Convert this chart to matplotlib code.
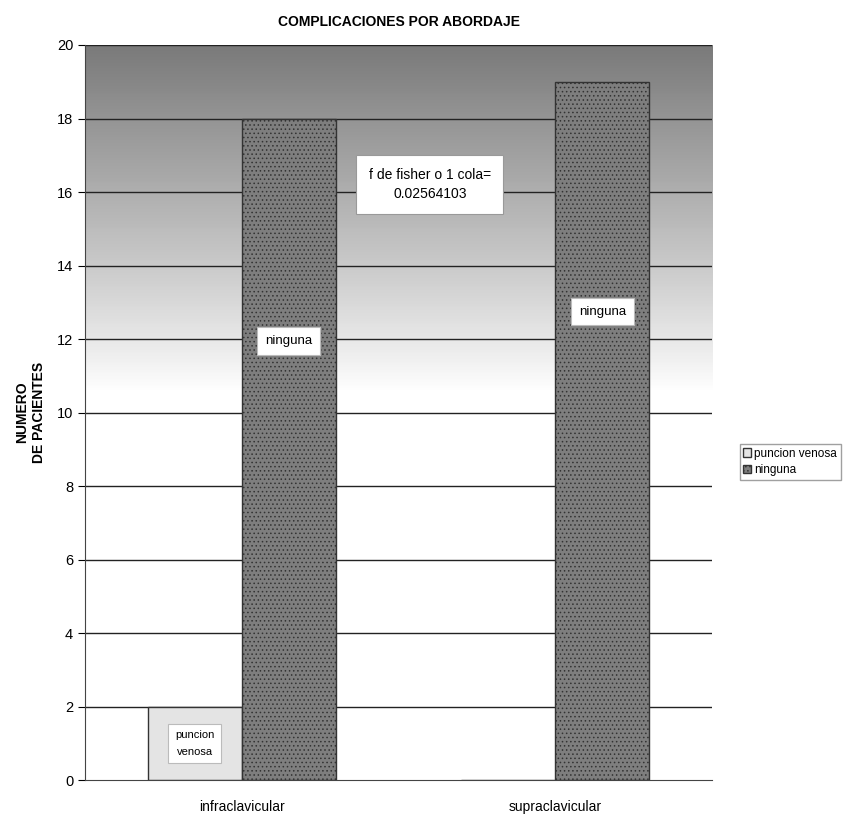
import numpy as np
import matplotlib
matplotlib.use("Agg")
import matplotlib.pyplot as plt

plt.rcParams["font.family"] = ["Liberation Sans", "DejaVu Sans"]

# complicaciones por abordaje
abordajes = ["infraclavicular", "supraclavicular"]
puncion_venosa = [2, 0]
ninguna = [18, 19]
series_names = ["puncion venosa", "ninguna"]
y_ticks = list(range(0, 21, 2))

fig = plt.figure(figsize=(8.58, 8.18), dpi=100)
ax = fig.add_axes([0.099, 0.046, 0.731, 0.899])

x = np.arange(len(abordajes))
w = 0.3

# degradado gris del fondo (oscuro arriba, blanco abajo)
grad = np.linspace(0, 1, 256).reshape(-1, 1)
shade = np.clip((grad - 0.53) / 0.47, 0, 1) ** 0.9
img = 1 - 0.52 * shade
ax.imshow(img, cmap="gray", vmin=0, vmax=1, aspect="auto", origin="lower",
          extent=[-0.5, 1.5, 0, 20], zorder=0)

for t in y_ticks[1:]:
    ax.axhline(t, color="#222222", lw=1.0, zorder=1)

plt.rcParams["hatch.linewidth"] = 0.6
b1 = ax.bar(x - w / 2, puncion_venosa, w, color="#e4e4e4", edgecolor="#333333",
            lw=1.0, label=series_names[0], zorder=2)
b2 = ax.bar(x + w / 2, ninguna, w, color="#7e7e7e", edgecolor="#333333",
            hatch="....", lw=1.0, label=series_names[1], zorder=2)

box = dict(boxstyle="square,pad=0.6", fc="white", ec="#bbbbbb", lw=0.8)
ax.text(x[0] - w / 2, 1.0, "puncion\nvenosa", ha="center", va="center",
        fontsize=8, linespacing=1.8, bbox=box, zorder=3)
ax.text(x[0] + w / 2, 11.95, "ninguna", ha="center", va="center",
        fontsize=9.5, bbox=box, zorder=3)
ax.text(x[1] + w / 2, 12.75, "ninguna", ha="center", va="center",
        fontsize=9.5, bbox=box, zorder=3)
ax.text(0.6, 16.2, "f de fisher o 1 cola=\n0.02564103", ha="center",
        va="center", fontsize=10, linespacing=1.5,
        bbox=dict(boxstyle="square,pad=0.9", fc="white", ec="#999999", lw=0.8),
        zorder=3)

ax.set_xlim(-0.5, 1.5)
ax.set_ylim(0, 20)
ax.set_yticks(y_ticks)
ax.set_xticks(x)
ax.set_xticklabels(abordajes, fontsize=10)
ax.tick_params(axis="y", labelsize=10.5, length=5)
ax.tick_params(axis="x", length=0, pad=14)
for s in ["top", "right"]:
    ax.spines[s].set_visible(False)
ax.spines["left"].set_color("#444444")
ax.spines["bottom"].set_color("#444444")

ax.set_title("COMPLICACIONES POR ABORDAJE", fontsize=10, fontweight="bold", pad=14,
             family=["Liberation Sans Narrow", "Liberation Sans", "DejaVu Sans"])
ax.set_ylabel("NUMERO\nDE PACIENTES", fontsize=10, fontweight="bold", labelpad=8)

fig.legend(handles=[b1, b2], loc="upper left", bbox_to_anchor=(0.862, 0.457),
           fontsize=8.5, frameon=True, fancybox=False, edgecolor="#888888",
           handlelength=0.7, handleheight=0.7, handletextpad=0.25,
           borderpad=0.3, labelspacing=0.4, borderaxespad=0)

fig.savefig("out.png", dpi=100)
